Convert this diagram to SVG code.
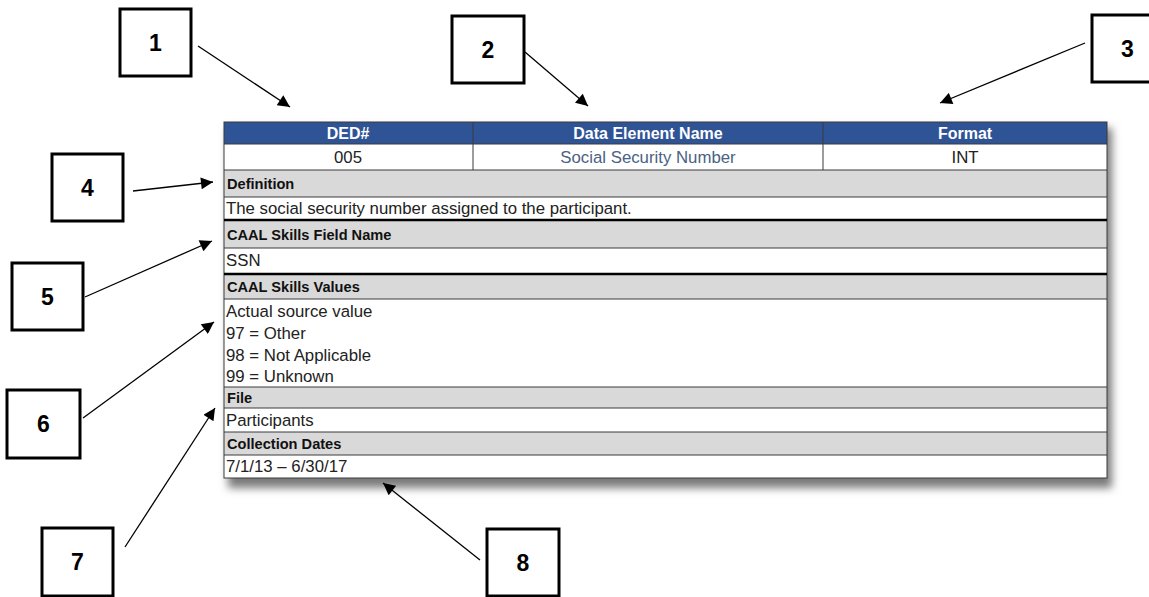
<svg xmlns="http://www.w3.org/2000/svg" width="1149" height="597" viewBox="0 0 1149 597">
<defs>
<style>
.box{fill:#fff;stroke:#000;stroke-width:3}
.num{font-family:"Liberation Sans",Arial,sans-serif;font-weight:bold;font-size:23px;fill:#000;text-anchor:middle}
.conn{stroke:#000;stroke-width:1.3;fill:none;marker-end:url(#ah)}
.hd{font-family:"Liberation Sans",Arial,sans-serif;font-weight:bold;font-size:16px;fill:#fff;text-anchor:middle}
.lab{font-family:"Liberation Sans",Arial,sans-serif;font-weight:bold;font-size:14.6px;fill:#111}
.txt{font-family:"Liberation Sans",Arial,sans-serif;font-size:16.8px;fill:#222}
.ctr{text-anchor:middle}
.gray{fill:#D9D9D9}
.thin{stroke:#3a3a3a;stroke-width:1}
.thick{stroke:#000;stroke-width:2.5}
</style>
<marker id="ah" viewBox="0 0 10 10" refX="10" refY="5" markerWidth="15" markerHeight="12" markerUnits="userSpaceOnUse" orient="auto">
<path d="M0,0 L10,5 L0,10 z" fill="#000"/>
</marker>
<filter id="sh" x="-5%" y="-5%" width="110%" height="115%">
<feGaussianBlur stdDeviation="4"/>
</filter>
</defs>
<rect width="1149" height="597" fill="#fff"/>

<g id="table">
<rect x="228" y="128" width="884" height="360" fill="#7a7a7a" filter="url(#sh)"/>
<rect x="224" y="122" width="883" height="356" fill="#fff"/>
<rect x="224" y="122" width="883" height="22" fill="#2F5496"/>
<rect class="gray" x="224" y="170" width="883" height="27"/>
<rect class="gray" x="224" y="220" width="883" height="28"/>
<rect class="gray" x="224" y="274" width="883" height="25"/>
<rect class="gray" x="224" y="387" width="883" height="21"/>
<rect class="gray" x="224" y="432" width="883" height="23"/>
<g class="thin">
<line x1="224" y1="144" x2="1107" y2="144"/>
<line x1="224" y1="170" x2="1107" y2="170"/>
<line x1="224" y1="197" x2="1107" y2="197"/>
<line x1="224" y1="248" x2="1107" y2="248"/>
<line x1="224" y1="299" x2="1107" y2="299"/>
<line x1="224" y1="387" x2="1107" y2="387"/>
<line x1="224" y1="408" x2="1107" y2="408"/>
<line x1="224" y1="432" x2="1107" y2="432"/>
<line x1="224" y1="455" x2="1107" y2="455"/>
<line x1="473" y1="122" x2="473" y2="170"/>
<line x1="823" y1="122" x2="823" y2="170"/>
<rect x="224" y="122" width="883" height="356" fill="none"/>
</g>
<g class="thick">
<line x1="224" y1="220" x2="1107" y2="220"/>
<line x1="224" y1="274" x2="1107" y2="274"/>
</g>
<text class="hd" x="348" y="138.5">DED#</text>
<text class="hd" x="648" y="138.5">Data Element Name</text>
<text class="hd" x="965" y="138.5">Format</text>
<text class="txt ctr" x="348" y="163">005</text>
<text class="txt ctr" x="648" y="163" style="fill:#4A6283">Social Security Number</text>
<text class="txt ctr" x="965" y="163">INT</text>
<text class="lab" x="227" y="189">Definition</text>
<text class="txt" x="226" y="214">The social security number assigned to the participant.</text>
<text class="lab" x="227" y="240">CAAL Skills Field Name</text>
<text class="txt" x="226" y="266">SSN</text>
<text class="lab" x="227" y="292">CAAL Skills Values</text>
<text class="txt" x="226" y="317">Actual source value</text>
<text class="txt" x="226" y="339">97 = Other</text>
<text class="txt" x="226" y="361">98 = Not Applicable</text>
<text class="txt" x="226" y="382">99 = Unknown</text>
<text class="lab" x="227" y="403">File</text>
<text class="txt" x="226" y="426">Participants</text>
<text class="lab" x="227" y="449">Collection Dates</text>
<text class="txt" x="226" y="472">7/1/13 – 6/30/17</text>
</g>

<g id="connectors">
<line class="conn" x1="198" y1="46" x2="290" y2="107"/>
<line class="conn" x1="525" y1="52" x2="588" y2="106"/>
<line class="conn" x1="1085" y1="43" x2="940" y2="103"/>
<line class="conn" x1="133" y1="191" x2="213" y2="182"/>
<line class="conn" x1="85" y1="297" x2="212" y2="241"/>
<line class="conn" x1="83" y1="418" x2="214" y2="322"/>
<line class="conn" x1="125" y1="547" x2="215" y2="408"/>
<line class="conn" x1="480" y1="560" x2="383" y2="483"/>
</g>

<g id="n1"><rect class="box" x="120" y="9" width="71" height="67"/><text class="num" x="155.5" y="50.5">1</text></g>
<g id="n2"><rect class="box" x="452" y="16" width="72" height="67"/><text class="num" x="488" y="57.5">2</text></g>
<g id="n3"><rect class="box" x="1092" y="15" width="71" height="67"/><text class="num" x="1127.5" y="56.5">3</text></g>
<g id="n4"><rect class="box" x="52" y="154" width="71" height="67"/><text class="num" x="87.5" y="195.5">4</text></g>
<g id="n5"><rect class="box" x="12" y="263" width="71" height="67"/><text class="num" x="47.5" y="304.5">5</text></g>
<g id="n6"><rect class="box" x="7" y="390" width="73" height="68"/><text class="num" x="43.5" y="432">6</text></g>
<g id="n7"><rect class="box" x="42" y="528" width="71" height="68"/><text class="num" x="77.5" y="570">7</text></g>
<g id="n8"><rect class="box" x="487" y="529" width="72" height="67"/><text class="num" x="523" y="570.5">8</text></g>
</svg>
